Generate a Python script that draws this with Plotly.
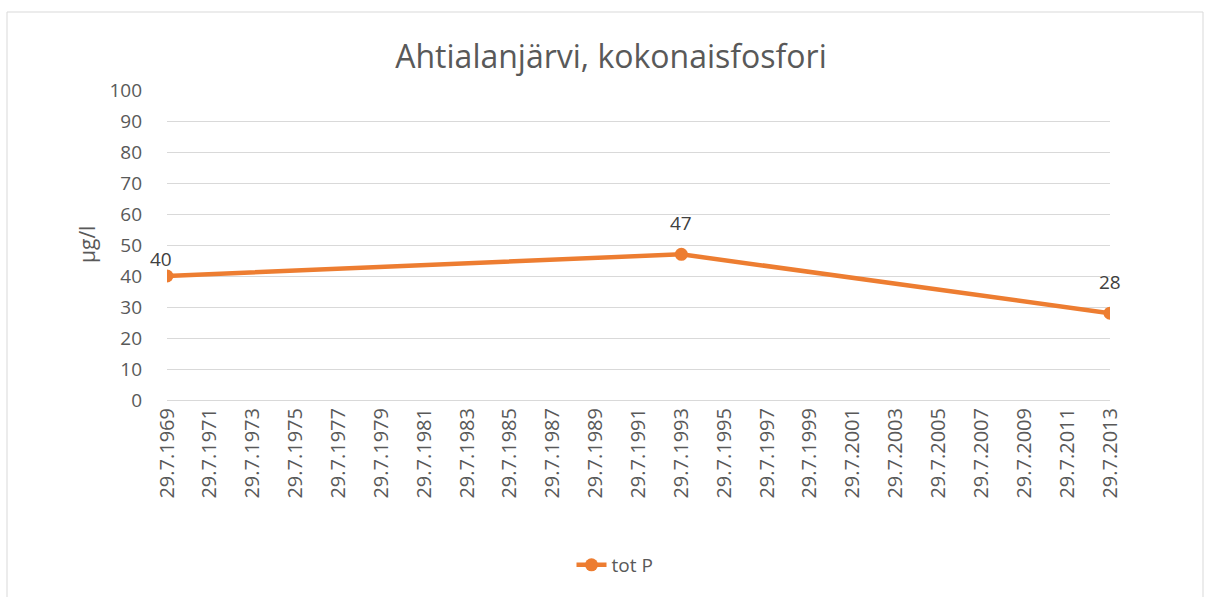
import plotly.graph_objects as go

dates = ["1969-07-29", "1993-07-29", "2013-07-29"]
values = [40, 47, 28]
tick_years = list(range(1969, 2014, 2))
tick_vals = [f"{y}-07-29" for y in tick_years]
tick_text = [f"29.7.{y}" for y in tick_years]

ORANGE = "#ED7D31"
GREY = "#595959"
FONT = "Open Sans"

W, H = 1205, 597
L, R, T, B = 167, 95, 90, 197
PW, PH = W - L - R, H - T - B

fig = go.Figure()
fig.add_trace(go.Scatter(
    x=dates, y=values, mode="lines+markers", name="tot P",
    line=dict(color=ORANGE, width=4.5),
    marker=dict(color=ORANGE, size=13),
))

for i, (d, v) in enumerate(zip(dates, values)):
    fig.add_annotation(x=d, y=v, text=str(v), showarrow=False,
                       yshift=17 if i == 0 else 31,
                       xshift=-6 if i == 0 else 0,
                       font=dict(family=FONT, size=19, color="#404040"))

fig.add_annotation(xref="paper", yref="paper", x=(87 - L) / PW, y=(400 - 245) / PH,
                   text="µg/l", textangle=-90, showarrow=False,
                   xanchor="center", yanchor="middle",
                   font=dict(family=FONT, size=21, color=GREY))

fig.update_layout(
    width=W, height=H,
    margin=dict(l=L, r=R, t=T, b=B, autoexpand=False),
    paper_bgcolor="white", plot_bgcolor="white",
    title=dict(text="Ahtialanjärvi, kokonaisfosfori", x=611 / W, xref="container",
               xanchor="center", yref="container", y=1 - 57 / H, yanchor="middle",
               font=dict(family=FONT, size=32, color=GREY)),
    showlegend=True,
    legend=dict(orientation="h", x=(615 - L) / PW, xanchor="center",
                y=-(565 - 400) / PH, yanchor="middle",
                font=dict(family=FONT, size=19, color=GREY)),
    font=dict(family=FONT, color=GREY),
)

fig.update_xaxes(
    type="date", range=[dates[0], dates[-1]], automargin=False,
    tickmode="array", tickvals=tick_vals, ticktext=tick_text,
    tickangle=-90, showgrid=False, showline=False, zeroline=False,
    tickfont=dict(family=FONT, size=20, color=GREY), ticks="", ticklabelstandoff=3,
)
fig.update_yaxes(
    range=[0, 100], dtick=10, tick0=0, automargin=False,
    showgrid=True, gridcolor="#D9D9D9", gridwidth=1,
    zeroline=True, zerolinecolor="#D9D9D9", zerolinewidth=1,
    showline=False, ticks="", ticklabelstandoff=24,
    tickfont=dict(family=FONT, size=19, color=GREY),
)

fig.add_shape(type="rect", xref="paper", yref="paper",
              x0=(7 - L) / PW, x1=(1203 - L) / PW,
              y0=-(610 - 400) / PH, y1=1 + (T - 12) / PH,
              line=dict(color="#D9D9D9", width=1), fillcolor="rgba(0,0,0,0)", layer="below")

fig.write_html("out.html", config={"displayModeBar": False},
               post_script="document.body.style.margin='0';document.body.style.overflow='hidden';")
